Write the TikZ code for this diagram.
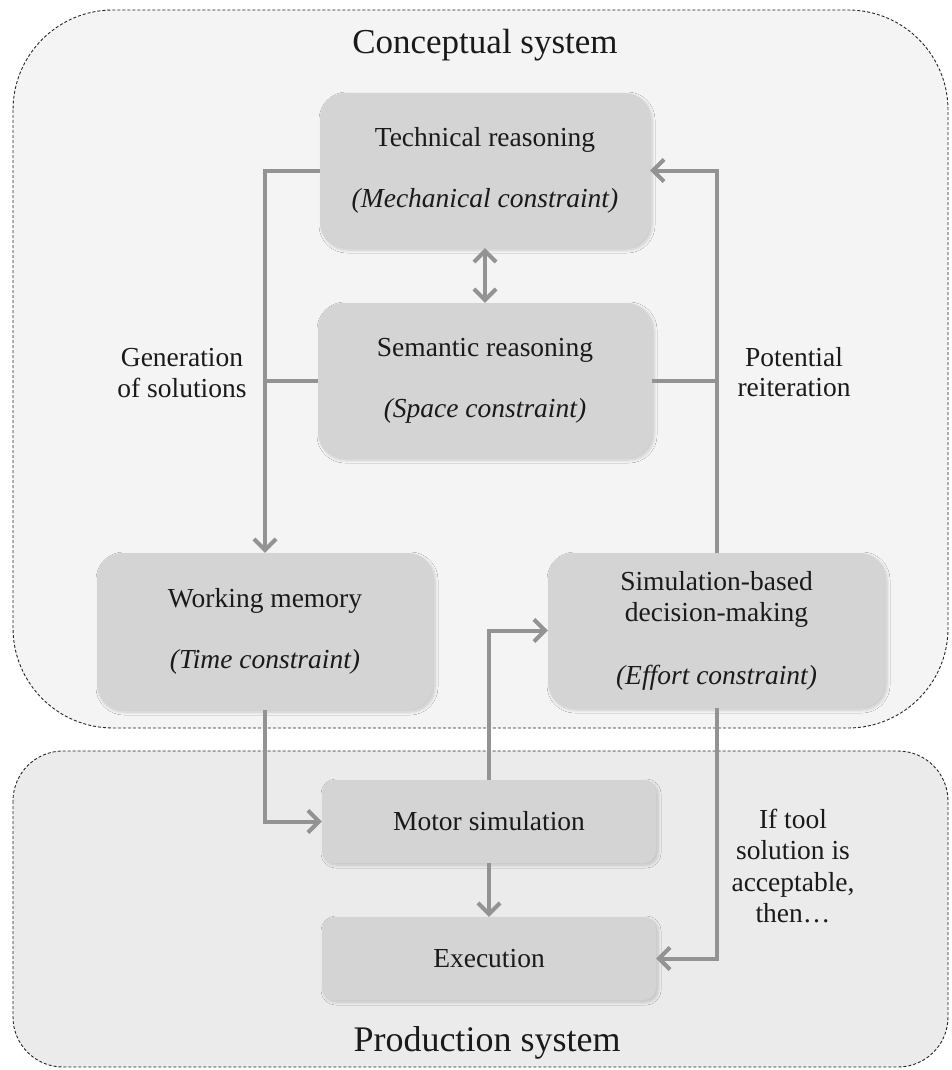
\documentclass[tikz,border=0pt]{standalone}
\usepackage{fontspec}
\setmainfont{Liberation Serif}
\usetikzlibrary{arrows.meta,shadows.blur}
\definecolor{cfill}{HTML}{F4F4F4}
\definecolor{pfill}{HTML}{EBEBEB}
\definecolor{bfill}{HTML}{D4D4D4}
\definecolor{lcol}{HTML}{939393}
\definecolor{tcol}{HTML}{1A1A1A}
\begin{document}
\begin{tikzpicture}[x=1pt,y=-1pt,
  box/.style={draw=none, fill=bfill, rounded corners=25pt, align=center, text=tcol,
    font=\fontsize{27.5}{31}\selectfont, inner sep=0pt,
    blur shadow={shadow xshift=2pt,shadow yshift=-2pt,shadow blur radius=3pt,shadow blur steps=8,shadow opacity=18}},
  flatbox/.style={box, rounded corners=12pt},
  conn/.style={draw=lcol, line width=4pt},
  arr/.style={conn, -{Straight Barb[length=11pt,width=22pt]}},
  lbl/.style={align=center, text=tcol, font=\fontsize{27.5}{30.5}\selectfont},
  container/.style={draw=black!85, line width=0.9pt, dash pattern=on 3pt off 2pt}
]
\useasboundingbox (0,0) rectangle (951,1070);
\fill[white] (0,0) rectangle (951,1070);
\draw[container, fill=cfill, rounded corners=100pt] (13,10) rectangle (948,728);
\draw[container, fill=pfill, rounded corners=50pt] (13,751) rectangle (948,1067);

\node[text=tcol, font=\fontsize{35}{40}\selectfont] (ctitle) at (485,45) {Conceptual system};
\node[text=tcol, font=\fontsize{36}{40}\selectfont] (ptitle) at (487,1043) {Production system};

\node[box, minimum width=330pt, minimum height=155pt] (tech) at (485,170.5)
  {Technical reasoning\\[30pt]\textit{(Mechanical constraint)}};
\node[box, minimum width=334pt, minimum height=155pt] (sem) at (485,380.5)
  {Semantic reasoning\\[30pt]\textit{(Space constraint)}};
\node[box, minimum width=336pt, minimum height=157pt] (wm) at (265,631.5)
  {Working memory\\[30pt]\textit{(Time constraint)}};
\node[box, minimum width=337pt, minimum height=155pt] (sim) at (716.5,630.5)
  {Simulation-based\\decision-making\\[32pt]\textit{(Effort constraint)}};
\node[flatbox, minimum width=334pt, minimum height=83pt] (motor) at (489,821.5)
  {Motor simulation};
\node[flatbox, minimum width=334pt, minimum height=83pt] (exec) at (489,958.5)
  {Execution};

\node[lbl] (gen) at (182,373) {Generation\\of solutions};
\node[lbl] (pot) at (794,372) {Potential\\reiteration};
\node[lbl, font=\fontsize{27.5}{31.5}\selectfont] (iftool) at (793,866)
  {If tool\\solution is\\acceptable,\\then\ldots};

\draw[arr] (tech.west) -| (wm.north);
\draw[conn] (sem.west) -- (sem.west -| wm.north);
\draw[arr] (sim.north) |- (tech.east);
\draw[conn] (sem.east) -- (sem.east -| sim.north);
\draw[conn, {Straight Barb[length=11pt,width=22pt]}-{Straight Barb[length=11pt,width=22pt]}] (tech.south) -- (sem.north);
\draw[arr] (wm.south) |- (motor.west);
\draw[arr] (motor.north) |- (sim.west);
\draw[arr] (motor.south) -- (exec.north);
\draw[arr] (sim.south) |- (exec.east);
\end{tikzpicture}
\end{document}
